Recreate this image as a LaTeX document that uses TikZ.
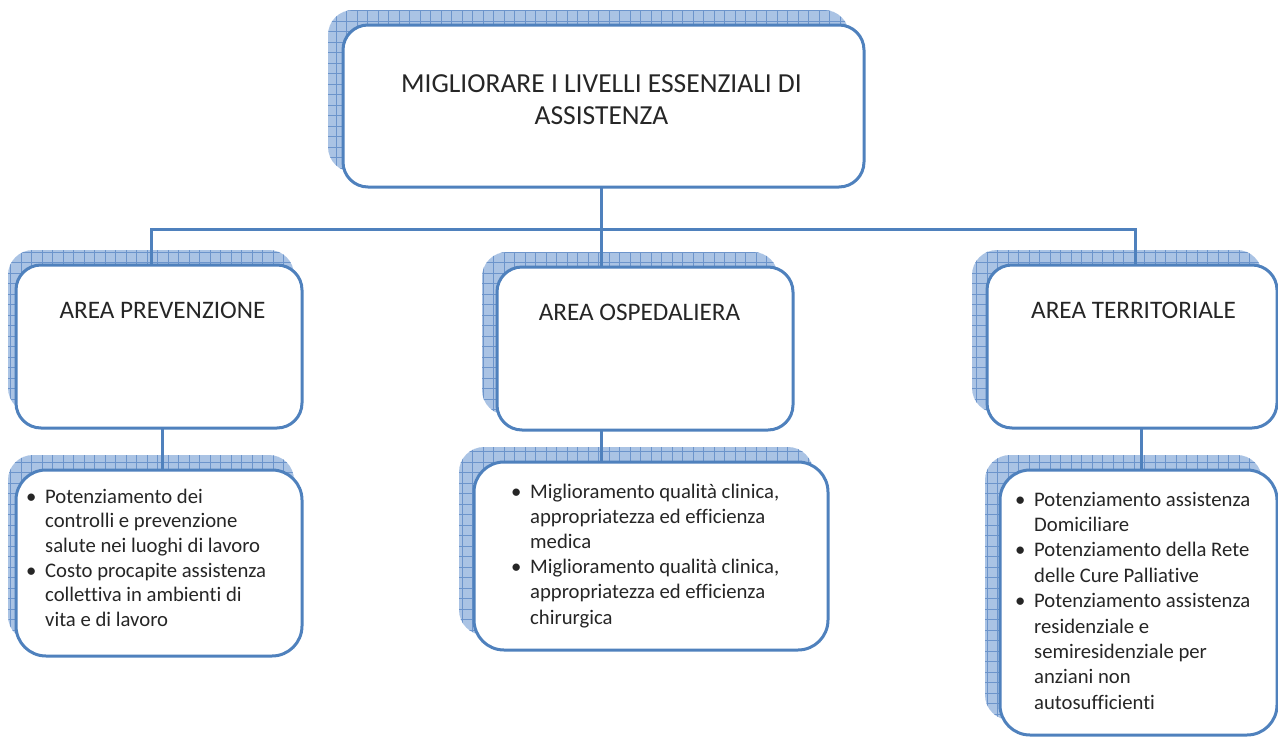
\documentclass[tikz,border=0pt]{standalone}
\usepackage{fontspec}
\setmainfont{Carlito}[Ligatures=NoCommon]
\usetikzlibrary{backgrounds}
\definecolor{bord}{RGB}{79,129,189}
\definecolor{shfill}{RGB}{170,195,228}
\definecolor{shgrid}{RGB}{108,148,203}
\newcommand\bt{\makebox[19pt][l]{•}}
\newcommand\hshadow[2][15]{%
  \begin{scope}[on background layer]
    \begin{scope}
      \clip[rounded corners=25pt] ([shift={(-#1,-15)}]#2.south west) rectangle ([shift={(-#1,-15)}]#2.north east);
      \fill[shfill] ([shift={(-#1,-15)}]#2.south west) rectangle ([shift={(-#1,-15)}]#2.north east);
      \draw[shgrid, line width=0.7pt, step=10.5pt] ([shift={(-#1,-15)}]#2.south west) grid ([shift={(-#1,-15)}]#2.north east);
    \end{scope}
  \end{scope}}
\tikzset{
  box/.style={draw=bord, line width=3pt, fill=white, rounded corners=25pt, inner sep=0pt, outer sep=0pt},
  lbox/.style={box, rounded corners=30pt},
  conn/.style={draw=bord, line width=3pt},
  ttl/.style={inner sep=0pt, text=black!85, font=\fontsize{27.5}{32}\selectfont},
  area/.style={inner sep=0pt, text=black!85, font=\fontsize{25.2}{30}\selectfont},
  blt/.style={inner sep=0pt, text=black!85, align=left}
}
\begin{document}
\begin{tikzpicture}[x=1pt, y=-1pt]
\useasboundingbox (0,0) rectangle (1278,737);
\clip (0,0) rectangle (1278,737);

% boxes
\node[box, minimum width=521pt, minimum height=162pt] (main) at (603.5,106) {};
\node[box, minimum width=286pt, minimum height=163pt] (prev) at (159,346.5) {};
\node[box, minimum width=296pt, minimum height=163pt] (osp) at (645,348.5) {};
\node[box, minimum width=290pt, minimum height=163pt] (terr) at (1132,346.5) {};
\node[lbox, minimum width=286pt, minimum height=186pt] (prevL) at (159,563) {};
\node[lbox, minimum width=354pt, minimum height=188pt] (ospL) at (651,556) {};
\node[lbox, minimum width=277pt, minimum height=265pt] (terrL) at (1138.5,602.5) {};

\hshadow{main}
\hshadow[8]{prev}
\hshadow{osp}
\hshadow{terr}
\hshadow[8]{prevL}
\hshadow{ospL}
\hshadow{terrL}

% connectors
\coordinate (busL) at (151,229);
\coordinate (busM) at (601,229);
\coordinate (busR) at (1135,229);
\draw[conn] (busM |- main.south) -- (busM |- osp.north);
\draw[conn] (busL |- prev.north) -- (busL) -- (busR) -- (busR |- terr.north);
\coordinate (dL) at (162,450);
\coordinate (dM) at (601,450);
\coordinate (dR) at (1141,450);
\draw[conn] (dL |- prev.south) -- (dL |- prevL.north);
\draw[conn] (dM |- osp.south) -- (dM |- ospL.north);
\draw[conn] (dR |- terr.south) -- (dR |- terrL.north);

% texts
\node[ttl, anchor=base] (mainT) at (601.5,92.5) {\begin{tabular}[t]{@{}c@{}}MIGLIORARE I LIVELLI ESSENZIALI DI\\ASSISTENZA\end{tabular}};
\node[area, anchor=base] (prevT) at (162.5,318) {AREA PREVENZIONE};
\node[area, anchor=base] (ospT) at (639.5,320) {AREA OSPEDALIERA};
\node[area, anchor=base] (terrT) at (1133.5,318) {AREA TERRITORIALE};

\node[blt, anchor=base west, font=\fontsize{20.7}{24.7}\selectfont] (prevB) at (26,503) {\begin{tabular}[t]{@{}l@{}l@{}}
\bt&Potenziamento dei\\
&controlli e prevenzione\\
&salute nei luoghi di lavoro\\
\bt&Costo procapite assistenza\\
&collettiva in ambienti di\\
&vita e di lavoro
\end{tabular}};
\node[blt, anchor=base west, font=\fontsize{20.7}{25.2}\selectfont] (ospB) at (511,498) {\begin{tabular}[t]{@{}l@{}l@{}}
\bt&Miglioramento qualità clinica,\\
&appropriatezza ed efficienza\\
&medica\\
\bt&Miglioramento qualità clinica,\\
&appropriatezza ed efficienza\\
&chirurgica
\end{tabular}};
\node[blt, anchor=base west, font=\fontsize{20.7}{25.4}\selectfont] (terrB) at (1015,506) {\begin{tabular}[t]{@{}l@{}l@{}}
\bt&Potenziamento assistenza\\
&Domiciliare\\
\bt&Potenziamento della Rete\\
&delle Cure Palliative\\
\bt&Potenziamento assistenza\\
&residenziale e\\
&semiresidenziale per\\
&anziani non\\
&autosufficienti
\end{tabular}};
\end{tikzpicture}
\end{document}
